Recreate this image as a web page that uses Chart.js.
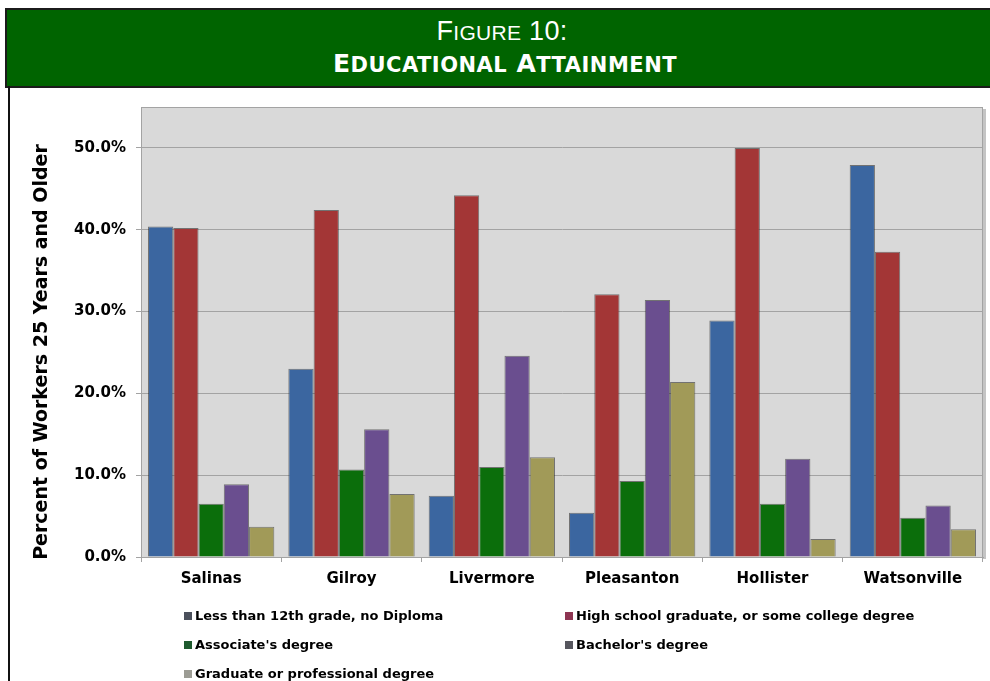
<!DOCTYPE html>
<html>
<head>
<meta charset="utf-8">
<title>Educational Attainment</title>
<script src="https://cdn.jsdelivr.net/npm/chart.js@4.4.1/dist/chart.umd.min.js"></script>
<style>
    html, body { margin: 0; padding: 0; background: #fff; width: 990px; height: 681px; overflow: hidden; }
    #header {
        position: absolute; left: 5px; top: 8px; width: 1000px; height: 76px;
        background: #006400; border: 2px solid #1b1b1b; color: #fff; text-align: center;
    }
    #header .line { position: absolute; left: 0; right: 10px; white-space: nowrap; line-height: 1; }
    #header .line1 {
        top: 8px; font-family: 'Liberation Sans', Arial, sans-serif;
        font-size: 27px; letter-spacing: 0.3px;
    }
    #header .line1 .sc { font-size: 21px; }
    #header .line2 {
        top: 41px; left: 6px; font-family: 'DejaVu Sans', Verdana, sans-serif;
        font-size: 25px; font-weight: bold; letter-spacing: 0.5px;
    }
    #header .line2 .sc { font-size: 21px; }
    #frame { position: absolute; left: 8px; top: 86px; width: 2px; height: 600px; background: #111; }
    #chartBox { position: absolute; left: 0; top: 0; width: 990px; height: 681px; }
    #legend {
        position: absolute; left: 184px; top: 601px;
        display: grid; grid-template-columns: 381px auto; grid-auto-rows: 29px;
        font-family: 'DejaVu Sans', Verdana, sans-serif; font-weight: bold; font-size: 13px; color: #000;
    }
    #legend .item { display: flex; align-items: center; white-space: nowrap; }
    #legend .swatch { width: 8px; height: 8px; margin-right: 3px; flex: none; }
</style>
</head>
<body>
<div id="header">
    <div class="line line1">F<span class="sc">IGURE</span> 10:</div>
    <div class="line line2">E<span class="sc">DUCATIONAL</span> A<span class="sc">TTAINMENT</span></div>
</div>
<div id="frame"></div>
<div id="chartBox"><canvas id="eduChart"></canvas></div>
<div id="legend"></div>

<script>
// --- Data ---
const CITIES = ['Salinas', 'Gilroy', 'Livermore', 'Pleasanton', 'Hollister', 'Watsonville'];

const LESS_THAN_12TH = [40.4, 23.0, 7.5, 5.4, 28.9, 47.9];
const HIGH_SCHOOL    = [40.2, 42.4, 44.2, 32.1, 50.0, 37.3];
const ASSOCIATE      = [6.5, 10.7, 11.0, 9.3, 6.5, 4.8];
const BACHELOR       = [8.9, 15.6, 24.6, 31.4, 12.0, 6.3];
const GRADUATE       = [3.7, 7.7, 12.2, 21.4, 2.2, 3.4];

const SERIES_NAMES = [
    'Less than 12th grade, no Diploma',
    'High school graduate, or some college degree',
    "Associate's degree",
    "Bachelor's degree",
    'Graduate or professional degree'
];

const Y_TICKS = [0, 10, 20, 30, 40, 50];
const Y_TITLE = 'Percent of Workers 25 Years and Older';

// --- Styles ---
const BAR_COLORS = ['#3b66a0', '#a33636', '#0b6e0b', '#6a4e8f', '#a19a58'];
const SWATCH_COLORS = ['#4b505c', '#8e3552', '#1e5a2e', '#56565e', '#9c9c94'];
const FONT_FAMILY = "'DejaVu Sans', Verdana, sans-serif";
const AXIS_FONT = { family: FONT_FAMILY, size: 15, weight: 'bold' };

// Grey plot panel behind the bars, with a thin frame and a little shade on the right
const plotPanel = {
    id: 'plotPanel',
    beforeDraw(chart) {
        const { ctx, chartArea: a } = chart;
        ctx.save();
        ctx.fillStyle = '#d9d9d9';
        ctx.fillRect(a.left, a.top, a.right - a.left, a.bottom - a.top);
        ctx.fillStyle = '#c4c4c4';
        ctx.fillRect(a.right, a.top + 2, 3, a.bottom - a.top);
        ctx.strokeStyle = '#a3a3a3';
        ctx.lineWidth = 1;
        ctx.strokeRect(a.left + 0.5, a.top + 0.5, a.right - a.left - 1, a.bottom - a.top);
        ctx.restore();
    }
};

// Rotated y-axis title
const yTitle = {
    id: 'yTitle',
    afterDraw(chart) {
        const { ctx } = chart;
        ctx.save();
        ctx.translate(42, 352);
        ctx.rotate(-Math.PI / 2);
        ctx.font = `bold 19px ${FONT_FAMILY}`;
        ctx.fillStyle = '#000';
        ctx.textAlign = 'center';
        ctx.textBaseline = 'middle';
        ctx.fillText(Y_TITLE, 0, 0);
        ctx.restore();
    }
};

const seriesValues = [LESS_THAN_12TH, HIGH_SCHOOL, ASSOCIATE, BACHELOR, GRADUATE];

const chart = new Chart(document.getElementById('eduChart'), {
    type: 'bar',
    data: {
        labels: CITIES,
        datasets: seriesValues.map((values, i) => ({
            label: SERIES_NAMES[i],
            data: values,
            backgroundColor: BAR_COLORS[i],
            borderColor: 'rgba(30, 30, 30, 0.55)',
            borderWidth: 1,
            borderSkipped: 'bottom',
            barPercentage: 1.0,
            categoryPercentage: 0.9
        }))
    },
    options: {
        responsive: true,
        maintainAspectRatio: false,
        animation: false,
        layout: { padding: { left: 12, top: 107, right: 7, bottom: 0 } },
        plugins: {
            legend: { display: false },
            tooltip: { enabled: false }
        },
        scales: {
            x: {
                grid: { drawOnChartArea: false, drawTicks: true, tickLength: 5, color: '#a3a3a3', offset: true },
                border: { color: '#a3a3a3' },
                ticks: { color: '#000', font: AXIS_FONT, padding: 8, maxRotation: 0 },
                afterFit(scale) { scale.height = 124; }
            },
            y: {
                min: 0,
                max: 55,
                afterBuildTicks(scale) { scale.ticks = Y_TICKS.map(v => ({ value: v })); },
                afterFit(scale) { scale.width = 129; },
                grid: { color: '#a3a3a3', tickLength: 5, lineWidth: 1 },
                border: { color: '#a3a3a3' },
                ticks: {
                    color: '#000',
                    font: AXIS_FONT,
                    padding: 10,
                    callback: v => v.toFixed(1) + '%'
                }
            }
        }
    },
    plugins: [plotPanel, yTitle]
});

// HTML legend in two columns
const legendBox = document.getElementById('legend');
chart.data.datasets.forEach((ds, i) => {
    const item = document.createElement('div');
    item.className = 'item';
    const sw = document.createElement('span');
    sw.className = 'swatch';
    sw.style.background = SWATCH_COLORS[i];
    item.appendChild(sw);
    item.appendChild(document.createTextNode(ds.label));
    legendBox.appendChild(item);
});
</script>
</body>
</html>
